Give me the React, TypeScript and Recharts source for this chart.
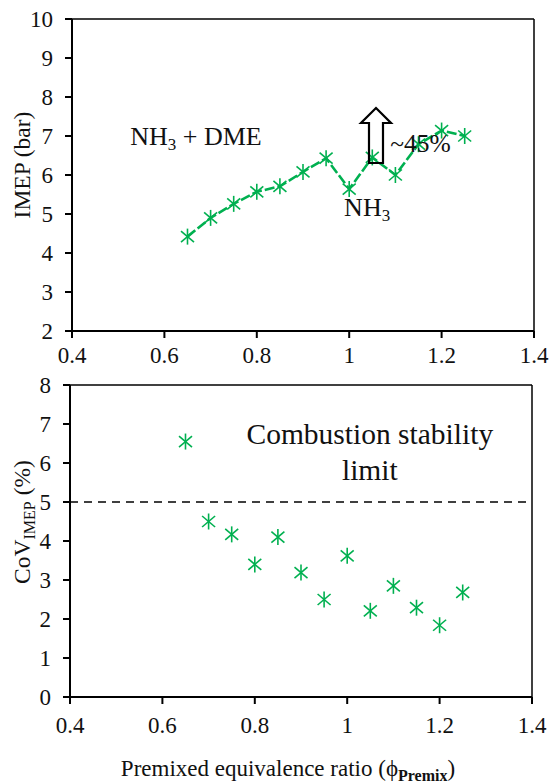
import React from 'react';
import {
  ComposedChart,
  Line,
  Scatter,
  XAxis,
  YAxis,
  ReferenceLine,
  ReferenceDot,
} from 'recharts';

const phi = [0.65, 0.7, 0.75, 0.8, 0.85, 0.9, 0.95, 1.0, 1.05, 1.1, 1.15, 1.2, 1.25];
const imep = [4.42, 4.9, 5.26, 5.57, 5.71, 6.08, 6.43, 5.64, 6.45, 6.0, 6.79, 7.14, 7.0];
const cov = [6.55, 4.5, 4.17, 3.4, 4.1, 3.19, 2.5, 3.62, 2.21, 2.85, 2.29, 1.84, 2.68];

const xTicks = [0.4, 0.6, 0.8, 1, 1.2, 1.4];
const imepTicks = [2, 3, 4, 5, 6, 7, 8, 9, 10];
const covTicks = [0, 1, 2, 3, 4, 5, 6, 7, 8];
const covLimit = 5;

const imepData = phi.map((x, i) => ({ x, y: imep[i] }));
const covData = phi.map((x, i) => ({ x, y: cov[i] }));

const GREEN = '#00b050';
const FONT = 'Liberation Serif';
const TICK_SIZE = 23;

function XTick(props: any) {
  const { x, y, payload } = props;
  return (
    <text x={x} y={y} dy={16} textAnchor="middle" fontFamily={FONT} fontSize={TICK_SIZE} fill="#111">
      {String(payload.value)}
    </text>
  );
}

function YTick(props: any) {
  const { x, y, payload } = props;
  return (
    <text x={x} y={y} dy={8} textAnchor="end" fontFamily={FONT} fontSize={TICK_SIZE} fill="#111">
      {String(payload.value)}
    </text>
  );
}

// asterisk marker: vertical bar + X
function Star(props: any) {
  const { cx, cy } = props;
  if (cx == null || cy == null) return null;
  const r = 8;
  const dx = 6.5;
  const dy = 5.5;
  return (
    <g stroke={GREEN} strokeWidth={1.6} fill="none">
      <line x1={cx} y1={cy - r} x2={cx} y2={cy + r} />
      <line x1={cx - dx} y1={cy - dy} x2={cx + dx} y2={cy + dy} />
      <line x1={cx - dx} y1={cy + dy} x2={cx + dx} y2={cy - dy} />
    </g>
  );
}

function textAt(content: React.ReactNode, anchor: 'start' | 'middle' | 'end', size: number) {
  return (props: any) => (
    <text
      x={props.cx}
      y={props.cy}
      textAnchor={anchor}
      fontFamily={FONT}
      fontSize={size}
      fill="#111"
    >
      {content}
    </text>
  );
}

function Arrow(props: any) {
  const { cx, cy } = props;
  const d = [
    `M${cx},${cy - 28}`,
    `L${cx + 15},${cy - 13}`,
    `L${cx + 7},${cy - 13}`,
    `L${cx + 7},${cy + 27}`,
    `L${cx - 7},${cy + 27}`,
    `L${cx - 7},${cy - 13}`,
    `L${cx - 15},${cy - 13}`,
    'Z',
  ].join(' ');
  return <path d={d} fill="none" stroke="#000" strokeWidth={2.2} strokeLinejoin="miter" />;
}

function ImepTitle(props: any) {
  const { viewBox } = props;
  const cy = viewBox.y + viewBox.height / 2 - 10;
  return (
    <text
      x={0}
      y={0}
      transform={`translate(30, ${cy}) rotate(-90)`}
      textAnchor="middle"
      fontFamily={FONT}
      fontSize={23.5}
      fill="#111"
    >
      IMEP (bar)
    </text>
  );
}

function CovTitle(props: any) {
  const { viewBox } = props;
  const cy = viewBox.y + viewBox.height / 2 - 19;
  return (
    <text
      x={0}
      y={0}
      transform={`translate(30, ${cy}) rotate(-90)`}
      textAnchor="middle"
      fontFamily={FONT}
      fontSize={23.5}
      fill="#111"
    >
      CoV
      <tspan fontSize={16} dy={5}>IMEP</tspan>
      <tspan dy={-5}> (%)</tspan>
    </text>
  );
}

function PhiTitle(props: any) {
  const { viewBox } = props;
  const cx = viewBox.x + viewBox.width / 2 - 13;
  return (
    <text x={cx} y={viewBox.y + 79} textAnchor="middle" fontFamily={FONT} fontSize={23} fill="#111">
      Premixed equivalence ratio (ϕ
      <tspan fontSize={16} fontWeight="bold" dy={5}>Premix</tspan>
      <tspan dy={-5}>)</tspan>
    </text>
  );
}

const axisLine = { stroke: '#000', strokeWidth: 2 };
const tickLine = { stroke: '#000', strokeWidth: 2 };

export default function App() {
  return (
    <div style={{ position: 'absolute', left: 0, top: 0, width: 550, height: 783, background: '#fff' }}>
      <ComposedChart
        width={550}
        height={372}
        data={imepData}
        margin={{ top: 19, right: 16, left: 0, bottom: 0 }}
      >
        <XAxis
          type="number"
          dataKey="x"
          domain={[0.4, 1.4]}
          ticks={xTicks}
          height={41}
          axisLine={axisLine}
          tickLine={tickLine}
          tickSize={7}
          tickMargin={9}
          tick={<XTick />}
          interval={0}
        />
        <YAxis
          type="number"
          domain={[2, 10]}
          ticks={imepTicks}
          width={72}
          axisLine={axisLine}
          tickLine={tickLine}
          tickSize={7}
          tickMargin={12}
          tick={<YTick />}
          interval={0}
          label={{ content: ImepTitle }}
        />
        <ReferenceLine y={10} stroke="#000" strokeWidth={1.5} />
        <ReferenceLine x={1.4} stroke="#000" strokeWidth={1.5} />
        <Line
          type="linear"
          dataKey="y"
          stroke={GREEN}
          strokeWidth={2.6}
          strokeDasharray="10 3"
          dot={<Star />}
          isAnimationActive={false}
        />
        <ReferenceDot x={0.526} y={6.77} r={0} shape={textAt(<>NH<tspan fontSize={17} dy={5}>3</tspan><tspan dy={-5}> + DME</tspan></>, 'start', 26)} />
        <ReferenceDot x={0.989} y={4.95} r={0} shape={textAt(<>NH<tspan fontSize={17} dy={5}>3</tspan></>, 'start', 26)} />
        <ReferenceDot x={1.089} y={6.59} r={0} shape={textAt('~45%', 'start', 25.5)} />
        <ReferenceDot x={1.058} y={7.0} r={0} shape={Arrow} />
      </ComposedChart>
      <ComposedChart
        width={550}
        height={411}
        data={covData}
        margin={{ top: 13, right: 18, left: 0, bottom: 46 }}
      >
        <XAxis
          type="number"
          dataKey="x"
          domain={[0.4, 1.4]}
          ticks={xTicks}
          height={40}
          axisLine={axisLine}
          tickLine={tickLine}
          tickSize={7}
          tickMargin={13}
          tick={<XTick />}
          interval={0}
          label={{ content: PhiTitle }}
        />
        <YAxis
          type="number"
          domain={[0, 8]}
          ticks={covTicks}
          width={70}
          axisLine={axisLine}
          tickLine={tickLine}
          tickSize={7}
          tickMargin={12}
          tick={<YTick />}
          interval={0}
          label={{ content: CovTitle }}
        />
        <ReferenceLine y={8} stroke="#000" strokeWidth={1.5} />
        <ReferenceLine x={1.4} stroke="#000" strokeWidth={1.5} />
        <ReferenceLine y={covLimit} stroke="#000" strokeWidth={1.5} strokeDasharray="8 6" />
        <Scatter dataKey="y" shape={Star} isAnimationActive={false} />
        <ReferenceDot x={1.049} y={6.5} r={0} shape={textAt('Combustion stability', 'middle', 29.5)} />
        <ReferenceDot x={1.049} y={5.56} r={0} shape={textAt('limit', 'middle', 29.5)} />
      </ComposedChart>
    </div>
  );
}
